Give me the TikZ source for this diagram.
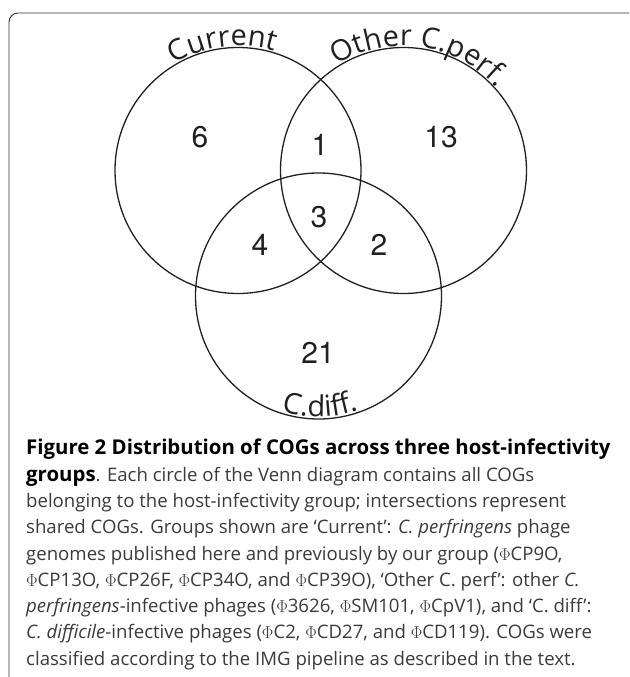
\documentclass[tikz,border=0pt]{standalone}
\usepackage{fontspec}
\setmainfont{Open Sans}
\newfontfamily\countfont{TeX Gyre Heros}
\usetikzlibrary{decorations.text}
\definecolor{ringblack}{HTML}{231f20}
\definecolor{framegrey}{HTML}{333333}
\definecolor{capgrey}{HTML}{3a3a3a}
\newcommand{\setfont}{\fontsize{29}{29}\selectfont}
\newcommand{\capbold}[1]{{\color{black}\fontsize{20.4}{26.3}\selectfont\bfseries #1}}
\tikzset{
  vennring/.style={circle, draw=ringblack, line width=1.3pt, minimum size=246pt, inner sep=0},
  countlabel/.style={font=\countfont\fontsize{30}{30}\selectfont, text=ringblack, inner sep=0},
  framebox/.style={draw=framegrey, line width=0.9pt, rounded corners=9pt},
  captiontext/.style={font=\fontsize{18.6}{26.3}\selectfont, text=capgrey, align=left, inner sep=0},
  setlabel/.style={decorate, decoration={text along path, text align=center, text color=ringblack}},
}
\begin{document}
\begin{tikzpicture}[x=1pt, y=1pt]
  \clip (0,0) rectangle (629,-677);
  \draw[framebox] (9,-13) rectangle (660,-700);

  \node[vennring] (cur) at (238,-170.5) {};
  \node[vennring] (oth) at (403.5,-170.5) {};
  \node[vennring] (cdf) at (318.5,-296) {};

  \path[setlabel, decoration={text={|\setfont|Current}}]
    ([shift={(132:124.5)}]cur.center) arc[start angle=132, end angle=62, radius=124.5];
  \path[setlabel, decoration={text={|\setfont|Other C.perf.}}]
    ([shift={(140:124.5)}]oth.center) arc[start angle=140, end angle=24, radius=124.5];
  \path[setlabel, decoration={text={|\setfont|C.diff.}}]
    ([shift={(236:121)}]cdf.center) arc[start angle=236, end angle=306, radius=121];

  \node[countlabel] (n6) at (200,-137) {6};
  \node[countlabel] (n1) at (320,-145) {1};
  \node[countlabel] (n13) at (441,-137) {13};
  \node[countlabel] (n3) at (319,-217) {3};
  \node[countlabel] (n4) at (260,-245) {4};
  \node[countlabel] (n2) at (379,-245) {2};
  \node[countlabel] (n21) at (318,-353) {21};

  \node[captiontext, anchor=north west] (caption) at (26,-439)
    {\capbold{Figure 2 Distribution of COGs across three host-infectivity}\\
     \capbold{groups}. Each circle of the Venn diagram contains all COGs\\
     belonging to the host-infectivity group; intersections represent\\
     shared COGs. Groups shown are ‘Current’: \textit{C. perfringens} phage\\
     genomes published here and previously by our group ($\Phi$CP9O,\\
     $\Phi$CP13O, $\Phi$CP26F, $\Phi$CP34O, and $\Phi$CP39O), ‘Other C. perf’: other \textit{C.}\\
     \textit{perfringens}-infective phages ($\Phi$3626, $\Phi$SM101, $\Phi$CpV1), and ‘C. diff’:\\
     \textit{C. difficile}-infective phages ($\Phi$C2, $\Phi$CD27, and $\Phi$CD119). COGs were\\
     classified according to the IMG pipeline as described in the text.};
\end{tikzpicture}
\end{document}
